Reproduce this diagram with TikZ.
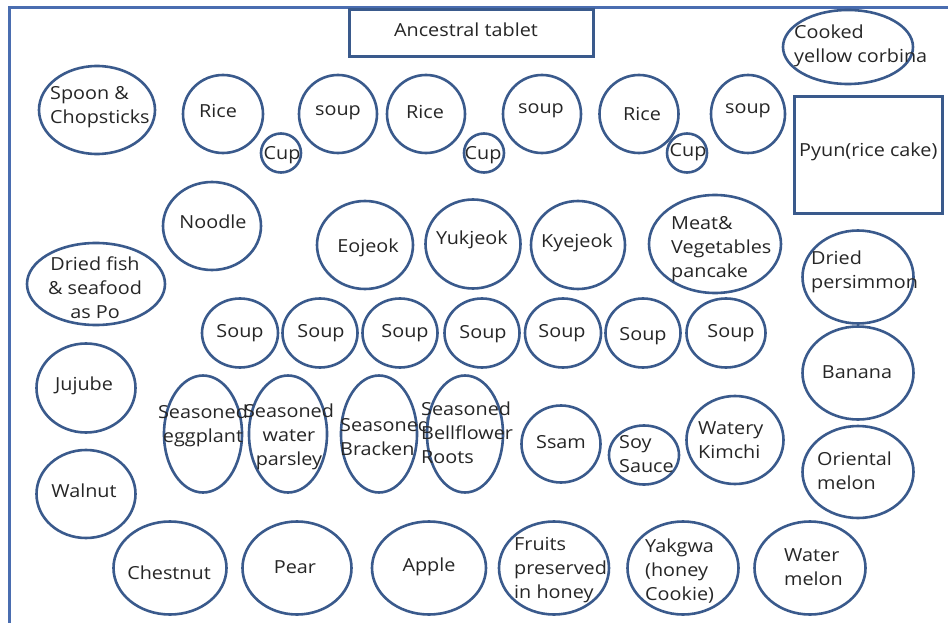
\documentclass[tikz,border=0pt]{standalone}
\usepackage{fontspec}
\setmainfont[FakeStretch=1.1]{Open Sans}
\usetikzlibrary{shapes.geometric}
\definecolor{dishc}{HTML}{3A5A8C}
\definecolor{framec}{HTML}{4A6DB0}
\tikzset{
  dish/.style={ellipse, draw=dishc, line width=2.6pt, inner sep=0pt},
  boxr/.style={draw=dishc, line width=2.6pt},
  lbl/.style={font=\fontsize{18}{24}\selectfont, inner sep=0pt, text=black!85},
  lbll/.style={lbl, anchor=west, align=left},
  lblc/.style={lbl, align=center},
}
\newcommand{\dishat}[5]{\node[dish, minimum width=#3pt, minimum height=#4pt] (#5) at (#1,#2) {};}
\begin{document}
\begin{tikzpicture}[x=1pt,y=-1pt]
\useasboundingbox[fill=white] (0,0) rectangle (948,623);
% outer frame (only left and top visible)
\draw[framec, line width=3pt] (9,623) -- (9,8) -- (948,8);
% rectangles
\node[boxr, minimum width=244pt, minimum height=47pt, anchor=north west] (tablet) at (348,8) {};
\node[lbl] (tablett) at (466,30) {Ancestral tablet};
\node[boxr, minimum width=148pt, minimum height=117pt, anchor=north west] (pyun) at (793,95) {};
\node[lbll] (pyunt) at (799,152) {Pyun(rice cake)};
% top row
\dishat{848}{47}{130}{74}{corbina}
\node[lbll] (corbinat) at (794,46) {Cooked\\yellow corbina};
\dishat{97}{110}{116}{88}{spoon}
\node[lbll] (spoont) at (50,107) {Spoon \&\\Chopsticks};
\dishat{223}{114}{80}{78}{rice1}
\node[lbl] (rice1t) at (218,111) {Rice};
\dishat{338}{114}{78}{78}{soup1}
\node[lbl] (soup1t) at (338,113) {soup};
\dishat{426}{114}{78}{78}{rice2}
\node[lbl] (rice2t) at (425,112) {Rice};
\dishat{542}{114}{78}{78}{soup2}
\node[lbl] (soup2t) at (541,111) {soup};
\dishat{639}{114}{79}{78}{rice3}
\node[lbl] (rice3t) at (642,114) {Rice};
\dishat{748}{114}{74}{78}{soup3}
\node[lbl] (soup3t) at (748,111) {soup};
\dishat{281}{153}{40}{39}{cup1}
\node[lbl] (cup1t) at (282,155) {Cup};
\dishat{484}{153}{40}{39}{cup2}
\node[lbl] (cup2t) at (483,155) {Cup};
\dishat{687}{153}{40}{39}{cup3}
\node[lbl] (cup3t) at (688,152) {Cup};
% second row
\dishat{212}{226}{98}{88}{noodle}
\node[lbl] (noodlet) at (213,222) {Noodle};
\dishat{96}{284}{138}{82}{driedfish}
\node[lblc] (driedfisht) at (95,288) {Dried fish\\\& seafood\\as Po};
\dishat{365}{245}{96}{88}{eojeok}
\node[lbl] (eojeokt) at (368,248) {Eojeok};
\dishat{473}{244}{95}{89}{yukjeok}
\node[lbl] (yukjeokt) at (472,240) {Yukjeok};
\dishat{578}{245}{94}{88}{kyejeok}
\node[lbl] (kyejeokt) at (577,243) {Kyejeok};
\dishat{715}{244}{132}{98}{pancake}
\node[lbll] (pancaket) at (671,249) {Meat\&\\Vegetables\\pancake};
\dishat{858}{277}{111}{93}{persimmon}
\node[lbll] (persimmont) at (811,272) {Dried\\persimmon};
% soup row
\dishat{240}{333}{76}{69}{s1}
\node[lbl] (s1t) at (240,333) {Soup};
\dishat{320}{333}{75}{69}{s2}
\node[lbl] (s2t) at (321,333) {Soup};
\dishat{400}{333}{75}{69}{s3}
\node[lbl] (s3t) at (405,333) {Soup};
\dishat{482}{333}{75}{69}{s4}
\node[lbl] (s4t) at (483,334) {Soup};
\dishat{563}{333}{76}{69}{s5}
\node[lbl] (s5t) at (562,333) {Soup};
\dishat{643}{333}{75}{69}{s6}
\node[lbl] (s6t) at (643,336) {Soup};
\dishat{726}{333}{79}{69}{s7}
\node[lbl] (s7t) at (731,333) {Soup};
% left column
\dishat{86}{388}{99}{89}{jujube}
\node[lbl] (jujubet) at (84,386) {Jujube};
\dishat{86}{494}{99}{88}{walnut}
\node[lbl] (walnutt) at (84,491) {Walnut};
% seasoned row
\dishat{203}{434}{78}{117}{eggplant}
\node[lblc] (eggplantt) at (203,426) {Seasoned\\eggplant};
\dishat{288}{434}{78}{117}{parsley}
\node[lblc] (parsleyt) at (289,437) {Seasoned\\water\\parsley};
\dishat{379}{434}{76}{117}{bracken}
\node[lbll] (brackent) at (340,437) {Seasoned\\Bracken};
\dishat{465}{434}{76}{117}{bellflower}
\node[lbll] (bellflowert) at (421,433) {Seasoned\\Bellflower\\Roots};
\dishat{561}{444}{79}{77}{ssam}
\node[lbl] (ssamt) at (561,442) {Ssam};
\dishat{644}{455}{70}{59}{soy}
\node[lbll] (soyt) at (619,454) {Soy\\Sauce};
\dishat{735}{440}{97}{88}{kimchi}
\node[lbll] (kimchit) at (698,440) {Watery\\Kimchi};
% right column
\dishat{858}{373}{111}{93}{banana}
\node[lbl] (bananat) at (857,372) {Banana};
\dishat{858}{472}{111}{92}{oriental}
\node[lbll] (orientalt) at (817,471) {Oriental\\melon};
% bottom row
\dishat{170}{568}{113}{93}{chestnut}
\node[lbl] (chestnutt) at (169,573) {Chestnut};
\dishat{297}{568}{109}{93}{pear}
\node[lbl] (peart) at (295,567) {Pear};
\dishat{429}{568}{114}{93}{apple}
\node[lbl] (applet) at (429,567) {Apple};
\dishat{554}{568}{110}{93}{fruits}
\node[lbll] (fruitst) at (514,570) {Fruits\\preserved\\in honey};
\dishat{683}{568}{111}{93}{yakgwa}
\node[lbll] (yakgwat) at (645,571) {Yakgwa\\(honey\\Cookie)};
\dishat{810}{568}{111}{93}{watermelon}
\node[lbll] (watermelont) at (784,567) {Water\\melon};
\end{tikzpicture}
\end{document}
